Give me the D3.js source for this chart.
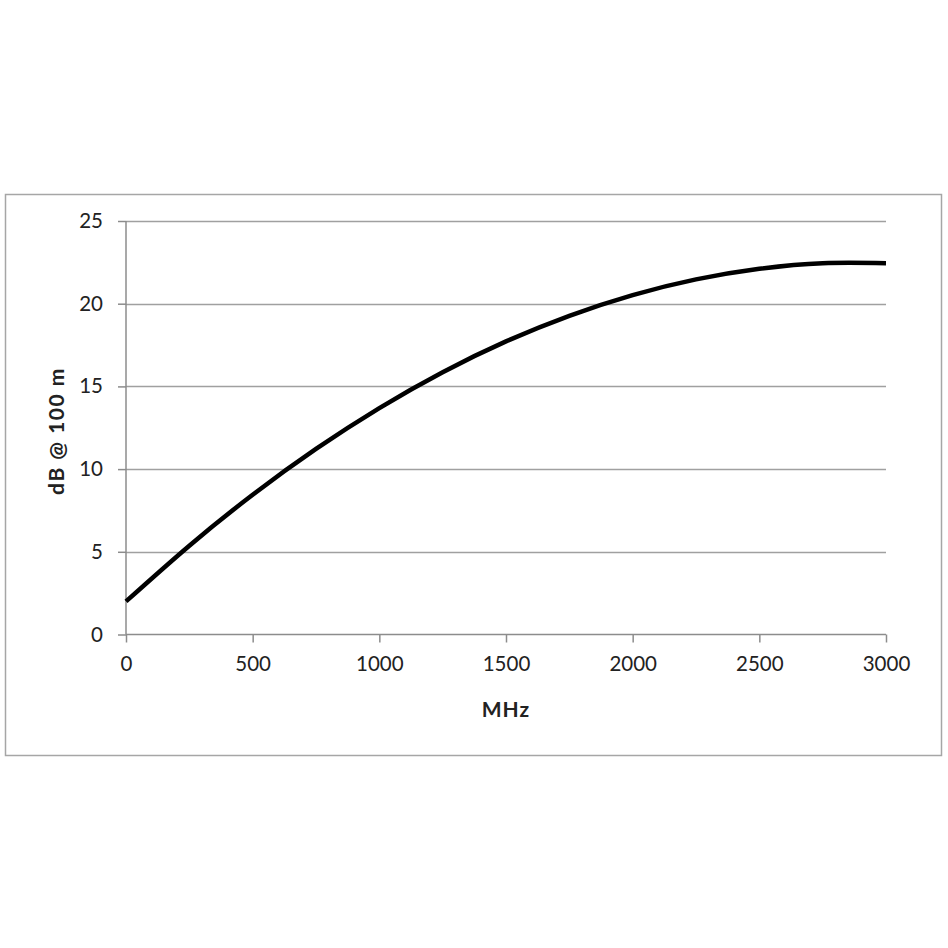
<!DOCTYPE html>
<html><head><meta charset="utf-8">
<script src="https://cdn.jsdelivr.net/npm/d3@7"></script>
<style>body{margin:0;background:#fff}svg{display:block}</style>
</head><body>
<script>
const freqMHz = [0,250,500,750,1000,1250,1500,1750,2000,2250,2500,2750,3000];
const lossDb  = [2.0,5.37,8.45,11.22,13.69,15.86,17.72,19.27,20.52,21.47,22.11,22.45,22.45];
const xTicks = [0,500,1000,1500,2000,2500,3000];
const yTicks = [0,5,10,15,20,25];
const xTitle = "MHz";
const yTitle = "dB @ 100 m";

const W=948,H=948;
const svg=d3.select("body").append("svg").attr("width",W).attr("height",H);
svg.append("rect").attr("x",5.5).attr("y",194.5).attr("width",936).attr("height",561)
  .attr("fill","#fff").attr("stroke","#a6a6a6").attr("stroke-width",1.5);

const x=d3.scaleLinear().domain([0,3000]).range([126,886]);
const y=d3.scaleLinear().domain([0,25]).range([634.5,221]);
const font="Lato, 'Open Sans', sans-serif";

// gridlines
svg.append("g").selectAll("line").data(yTicks.filter(d=>d>0)).join("line")
  .attr("x1",x(0)).attr("x2",x(3000)).attr("y1",d=>Math.round(y(d))+0.5).attr("y2",d=>Math.round(y(d))+0.5)
  .attr("stroke","#a0a0a0").attr("stroke-width",1.3);

// y axis
const ya=svg.append("g").attr("transform",`translate(${x(0)},0)`)
  .call(d3.axisLeft(y).tickValues(yTicks).tickFormat(d3.format("d")).tickSize(8).tickPadding(15));
// x axis
const xa=svg.append("g").attr("transform",`translate(0,${y(0)})`)
  .call(d3.axisBottom(x).tickValues(xTicks).tickFormat(d3.format("d")).tickSize(8).tickPadding(14));
[ya,xa].forEach(g=>{
  g.selectAll("path,line").attr("stroke","#8c8c8c").attr("stroke-width",1.5);
  g.selectAll("text").attr("font-family",font).attr("font-size",20.5).attr("fill","#222");
});
ya.select(".domain").attr("d",`M0,${y(0)}V${y(25)}`);
xa.select(".domain").attr("d",`M${x(0)},0H${x(3000)}`);

// curve
svg.append("path").datum(freqMHz.map((f,i)=>[f,lossDb[i]]))
  .attr("fill","none").attr("stroke","#000").attr("stroke-width",4.5)
  .attr("d",d3.line().x(d=>x(d[0])).y(d=>y(d[1])).curve(d3.curveNatural));

svg.append("text").attr("x",506).attr("y",717).attr("text-anchor","middle")
  .attr("font-family",font).attr("font-weight","bold").attr("font-size",21).attr("letter-spacing",1).attr("fill","#222").text(xTitle);
svg.append("text").attr("transform","translate(64,431) rotate(-90)").attr("text-anchor","middle")
  .attr("font-family",font).attr("font-weight","bold").attr("font-size",21).attr("letter-spacing",1.5).attr("fill","#222").text(yTitle);
</script>
</body></html>
